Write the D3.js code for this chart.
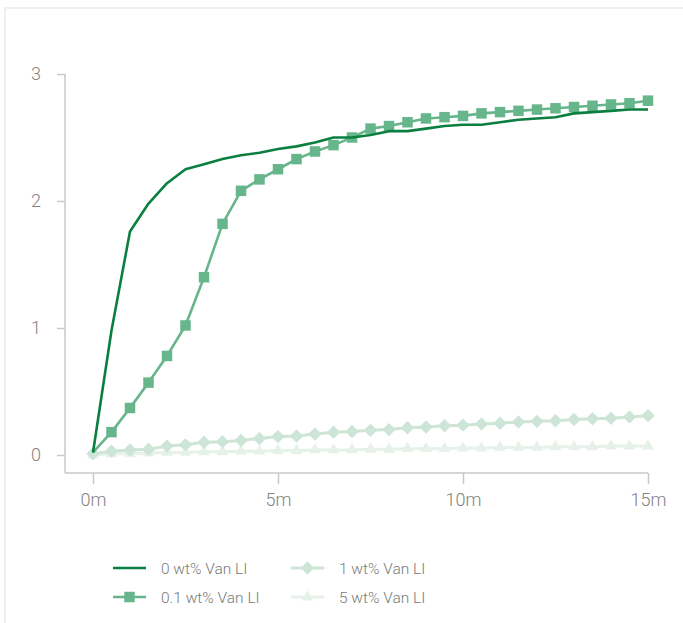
<!DOCTYPE html>
<html>
<head>
<meta charset="utf-8">
<script src="https://cdn.jsdelivr.net/npm/d3@7"></script>
<style>
  html, body { margin: 0; padding: 0; background: #fff; }
  svg { display: block; font-family: Roboto, "Noto Sans", sans-serif; }
</style>
</head>
<body>
<svg id="chart" width="683" height="623"></svg>
<script>
// ---- data ----
const minutes = d3.range(0, 15.01, 0.5);
const xTickValues = [0, 5, 10, 15];
const yTickValues = [0, 1, 2, 3];
const seriesNames = ["0 wt% Van LI", "0.1 wt% Van LI", "1 wt% Van LI", "5 wt% Van LI"];
const van0 = [0.02, 0.98, 1.76, 1.98, 2.14, 2.25, 2.29, 2.33, 2.36, 2.38, 2.41, 2.43, 2.46, 2.50, 2.50, 2.52,
  2.55, 2.55, 2.57, 2.59, 2.60, 2.60, 2.62, 2.64, 2.65, 2.66, 2.69, 2.70, 2.71, 2.72, 2.72];
const van01 = [0.02, 0.18, 0.37, 0.57, 0.78, 1.02, 1.40, 1.82, 2.08, 2.17, 2.25, 2.33, 2.39, 2.44, 2.50, 2.57,
  2.59, 2.62, 2.65, 2.66, 2.67, 2.69, 2.70, 2.71, 2.72, 2.73, 2.74, 2.75, 2.76, 2.77, 2.79];
const van1 = [0.01, 0.03, 0.04, 0.045, 0.07, 0.08, 0.10, 0.105, 0.115, 0.13, 0.145, 0.15, 0.165, 0.18, 0.185, 0.195,
  0.20, 0.215, 0.22, 0.23, 0.235, 0.245, 0.25, 0.26, 0.265, 0.27, 0.28, 0.285, 0.29, 0.30, 0.31];
const van5 = [0.0, 0.01, 0.01, 0.015, 0.02, 0.02, 0.025, 0.025, 0.03, 0.03, 0.035, 0.035, 0.04, 0.04, 0.04, 0.045,
  0.045, 0.05, 0.05, 0.05, 0.055, 0.055, 0.06, 0.06, 0.06, 0.065, 0.065, 0.065, 0.07, 0.07, 0.07];

const seriesValues = [van0, van01, van1, van5];
const colors = ["#0a7f3f", "#66b58b", "#cde5d7", "#e5f1e9"];
const markers = [null, "square", "diamond", "triangle"];
const widths = [2.6, 2.6, 3, 3];

const svg = d3.select("#chart");

// outer frame
svg.append("rect").attr("x", 5).attr("y", 8).attr("width", 720).attr("height", 720)
  .attr("fill", "none").attr("stroke", "#efefef").attr("stroke-width", 2);

const x = d3.scaleLinear().domain([0, 15]).range([93, 648]);
const y = d3.scaleLinear().domain([0, 3]).range([455, 74]);

const axisColor = "#c8c8c8";
const labelColor = "#828282";

// y axis
const gy = svg.append("g").attr("transform", "translate(65,0)")
  .call(d3.axisLeft(y).tickValues(yTickValues).tickSize(8).tickPadding(16).tickFormat(d3.format("d")));
gy.select(".domain").remove();
gy.selectAll(".tick line").attr("stroke", axisColor).attr("stroke-width", 1.5);
gy.selectAll(".tick text").attr("fill", labelColor).attr("font-size", 18).attr("font-weight", 300)
  .attr("font-family", "Roboto");
svg.append("line").attr("x1", 65).attr("x2", 65).attr("y1", y(3)).attr("y2", 473)
  .attr("stroke", axisColor).attr("stroke-width", 1.5);

// x axis
const gx = svg.append("g").attr("transform", "translate(0,473)")
  .call(d3.axisBottom(x).tickValues(xTickValues).tickSize(11).tickPadding(9).tickFormat(d => d + "m"));
gx.select(".domain").remove();
gx.selectAll(".tick line").attr("stroke", axisColor).attr("stroke-width", 1.5);
gx.selectAll(".tick text").attr("fill", labelColor).attr("font-size", 18).attr("font-weight", 300)
  .attr("font-family", "Roboto");
svg.append("line").attr("x1", 65).attr("x2", x(15)).attr("y1", 473).attr("y2", 473)
  .attr("stroke", axisColor).attr("stroke-width", 1.5);

const symbolFor = {
  square: { path: d3.symbol().type(d3.symbolSquare).size(110)(), rot: 0 },
  diamond: { path: d3.symbol().type(d3.symbolSquare).size(90)(), rot: 45 },
  triangle: { path: d3.symbol().type(d3.symbolTriangle).size(60)(), rot: 0 }
};

const line = d3.line().x(d => x(d[0])).y(d => y(d[1]));

// draw in reverse so the first series is on top
for (let i = seriesValues.length - 1; i >= 0; i--) {
  const pts = minutes.map((m, j) => [m, seriesValues[i][j]]);
  const g = svg.append("g");
  g.append("path").datum(pts).attr("d", line).attr("fill", "none")
    .attr("stroke", colors[i]).attr("stroke-width", widths[i]).attr("stroke-linejoin", "round");
  if (markers[i]) {
    const s = symbolFor[markers[i]];
    const mpts = markers[i] === "square" ? pts.slice(1) : pts;
    g.selectAll("path.m").data(mpts).enter().append("path").attr("class", "m")
      .attr("d", s.path)
      .attr("transform", d => `translate(${x(d[0])},${y(d[1])}) rotate(${s.rot})`)
      .attr("fill", colors[i]);
  }
}

// legend
const legendPos = [[113, 568], [113, 597], [291, 568], [291, 597]];
seriesNames.forEach((name, i) => {
  const [lx, ly] = legendPos[i];
  const g = svg.append("g").attr("transform", `translate(${lx},${ly})`);
  g.append("line").attr("x1", 0).attr("x2", 33).attr("y1", 0).attr("y2", 0)
    .attr("stroke", colors[i]).attr("stroke-width", widths[i]);
  if (markers[i]) {
    const s = symbolFor[markers[i]];
    g.append("path").attr("d", s.path).attr("transform", `translate(16.5,0) rotate(${s.rot})`)
      .attr("fill", colors[i]);
  }
  g.append("text").attr("x", 48).attr("y", 5.5).attr("fill", "#7a7a7a")
    .attr("font-size", 15.5).attr("font-weight", 300).attr("font-family", "Roboto").text(name);
});
</script>
</body>
</html>
